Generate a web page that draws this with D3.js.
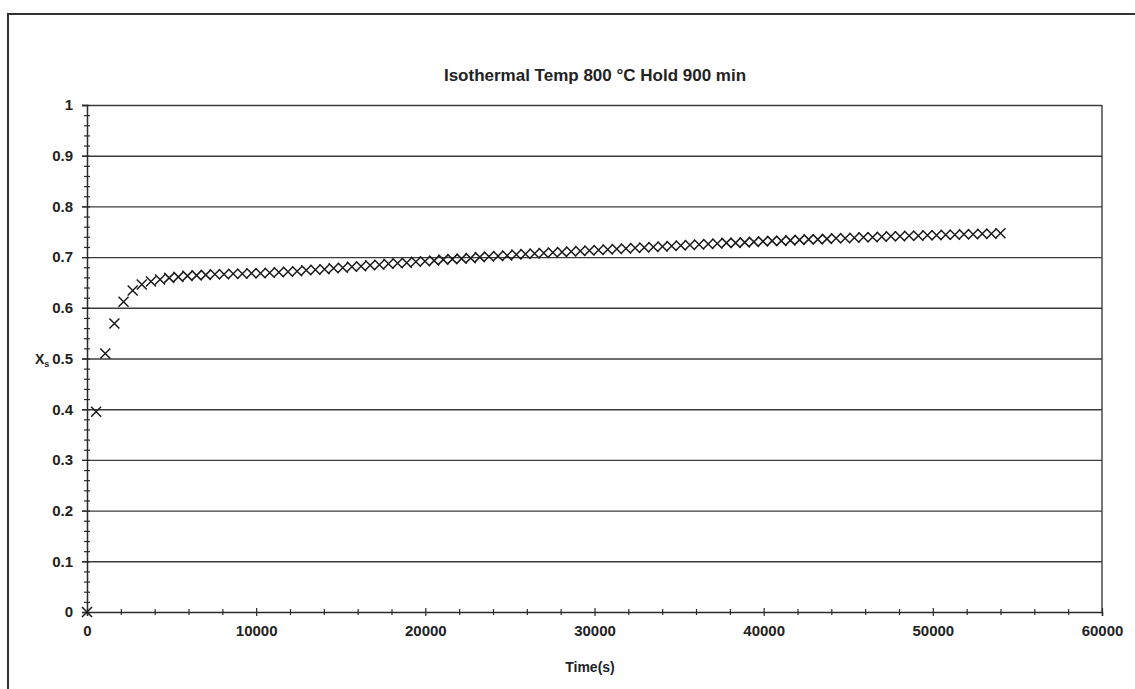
<!DOCTYPE html>
<html>
<head>
<meta charset="utf-8">
<script src="https://cdn.jsdelivr.net/npm/d3@7"></script>
<style>
  html, body { margin: 0; padding: 0; background: #fff; }
  svg { display: block; }
  text { font-family: "Liberation Sans", Arial, sans-serif; fill: #222; }
</style>
</head>
<body>
<svg id="chart" width="1135" height="689"></svg>
<script>
const chartTitle = "Isothermal Temp 800 °C Hold 900 min";
const xTitle = "Time(s)";
const xTickValues = [0, 10000, 20000, 30000, 40000, 50000, 60000];
const xMinorTicks = [2000, 4000, 6000, 8000, 12000, 14000, 16000, 18000, 22000, 24000, 26000, 28000,
  32000, 34000, 36000, 38000, 42000, 44000, 46000, 48000, 52000, 54000, 56000, 58000];
const yTickValues = [0, 0.1, 0.2, 0.3, 0.4, 0.5, 0.6, 0.7, 0.8, 0.9, 1];
const yMinorTicks = [0.02,0.04,0.06,0.08,0.12,0.14,0.16,0.18,0.22,0.24,0.26,0.28,0.32,0.34,0.36,0.38,
  0.42,0.44,0.46,0.48,0.52,0.54,0.56,0.58,0.62,0.64,0.66,0.68,0.72,0.74,0.76,0.78,0.82,0.84,0.86,0.88,
  0.92,0.94,0.96,0.98];

const timeSec = [0,540,1080,1620,2160,2700,3240,3780,4320,4860,5400,5940,6480,7020,7560,8100,8640,9180,9720,10260,
  10800,11340,11880,12420,12960,13500,14040,14580,15120,15660,16200,16740,17280,17820,18360,18900,19440,19980,20520,21060,
  21600,22140,22680,23220,23760,24300,24840,25380,25920,26460,27000,27540,28080,28620,29160,29700,30240,30780,31320,31860,
  32400,32940,33480,34020,34560,35100,35640,36180,36720,37260,37800,38340,38880,39420,39960,40500,41040,41580,42120,42660,
  43200,43740,44280,44820,45360,45900,46440,46980,47520,48060,48600,49140,49680,50220,50760,51300,51840,52380,52920,53460,
  54000];
const xsValues = [0,0.395,0.510,0.569,0.612,0.634,0.646,0.652,0.656,0.659,0.661,0.663,0.664,0.665,0.666,0.666,0.667,0.667,0.668,0.668,
  0.669,0.670,0.671,0.672,0.674,0.675,0.676,0.678,0.679,0.681,0.682,0.684,0.685,0.687,0.688,0.689,0.691,0.692,0.693,0.695,
  0.696,0.697,0.698,0.700,0.701,0.702,0.703,0.705,0.706,0.707,0.708,0.709,0.710,0.711,0.712,0.713,0.714,0.715,0.716,0.717,
  0.718,0.719,0.720,0.721,0.722,0.723,0.724,0.725,0.726,0.727,0.728,0.728,0.729,0.730,0.731,0.732,0.732,0.733,0.734,0.735,
  0.735,0.736,0.737,0.737,0.738,0.739,0.739,0.740,0.741,0.741,0.742,0.742,0.743,0.743,0.744,0.744,0.745,0.745,0.746,0.746,
  0.747];

const svg = d3.select("#chart");
const plotLeft = 87, plotRight = 1102, plotTop = 105, plotBottom = 612;
const x = d3.scaleLinear().domain([0, 60000]).range([plotLeft, plotRight]);
const y = d3.scaleLinear().domain([0, 1]).range([plotBottom, plotTop]);
const ink = "#2a2a2a";
const fontFam = "Liberation Sans, Arial, sans-serif";

// outer frame (left + top visible)
svg.append("path").attr("d", `M8,689 L8,14 L1135,14`).attr("fill", "none").attr("stroke", "#333").attr("stroke-width", 2);

// gridlines
const grid = svg.append("g").attr("transform", `translate(${plotLeft},0)`)
  .call(d3.axisLeft(y).tickValues(yTickValues.filter(v => v > 0)).tickSize(-(plotRight - plotLeft)).tickFormat(""));
grid.select(".domain").remove();
grid.selectAll(".tick line").attr("stroke", "#3c3c3c").attr("stroke-width", 1.4).attr("x2", plotRight - plotLeft).attr("x1", -5);

// right plot border
svg.append("line").attr("x1", plotRight).attr("x2", plotRight).attr("y1", plotTop).attr("y2", plotBottom)
  .attr("stroke", "#3c3c3c").attr("stroke-width", 1.4);

// y axis minor ticks (crossing)
const yMinor = svg.append("g").attr("transform", `translate(${plotLeft},0)`)
  .call(d3.axisLeft(y).tickValues(yMinorTicks).tickSize(3).tickFormat(""));
yMinor.select(".domain").remove();
yMinor.selectAll(".tick line").attr("x1", 3).attr("x2", -3).attr("stroke", ink).attr("stroke-width", 1.2);

// y axis main
const yAxis = svg.append("g").attr("transform", `translate(${plotLeft},0)`)
  .call(d3.axisLeft(y).tickValues(yTickValues).tickSize(5).tickPadding(9).tickFormat(d3.format("")));
yAxis.select(".domain").attr("stroke", ink).attr("stroke-width", 1.5);
yAxis.selectAll(".tick line").attr("x1", 3).attr("x2", -5).attr("stroke", ink).attr("stroke-width", 1.2);
yAxis.selectAll(".tick text").attr("font-size", 15).attr("font-weight", "bold").attr("fill", "#222")
  .attr("font-family", fontFam);

// x axis minor ticks
const xMinor = svg.append("g").attr("transform", `translate(0,${plotBottom})`)
  .call(d3.axisBottom(x).tickValues(xMinorTicks).tickSize(3).tickFormat(""));
xMinor.select(".domain").remove();
xMinor.selectAll(".tick line").attr("y1", -3).attr("y2", 3).attr("stroke", ink).attr("stroke-width", 1.2);

// x axis main
const xAxis = svg.append("g").attr("transform", `translate(0,${plotBottom})`)
  .call(d3.axisBottom(x).tickValues(xTickValues).tickSize(4).tickPadding(9).tickFormat(d3.format("d")));
xAxis.select(".domain").attr("stroke", ink).attr("stroke-width", 1.5);
xAxis.selectAll(".tick line").attr("y1", -4).attr("y2", 4).attr("stroke", ink).attr("stroke-width", 1.2);
xAxis.selectAll(".tick text").attr("font-size", 15).attr("font-weight", "bold").attr("fill", "#222")
  .attr("font-family", fontFam);

// data markers: X shapes
const data = timeSec.map((t, i) => ({ t, v: xsValues[i] }));
const s = 5;
svg.append("g").selectAll("path").data(data).join("path")
  .attr("d", d => {
    const cx = x(d.t), cy = y(d.v);
    return `M${cx - s},${cy - s}L${cx + s},${cy + s}M${cx - s},${cy + s}L${cx + s},${cy - s}`;
  })
  .attr("stroke", "#1a1a1a").attr("stroke-width", 1.5).attr("fill", "none");

// title
svg.append("text").attr("x", 595).attr("y", 81).attr("text-anchor", "middle")
  .attr("font-size", 17).attr("font-weight", "bold").text(chartTitle);

// x title
svg.append("text").attr("x", 590).attr("y", 672).attr("text-anchor", "middle")
  .attr("font-size", 14).attr("font-weight", "bold").text(xTitle);

// y title X_s
const yt = svg.append("text").attr("x", 35).attr("y", 364)
  .attr("font-size", 14).attr("font-weight", "bold");
yt.append("tspan").text("X");
yt.append("tspan").attr("font-size", 9).attr("dy", 3).text("s");
</script>
</body>
</html>
